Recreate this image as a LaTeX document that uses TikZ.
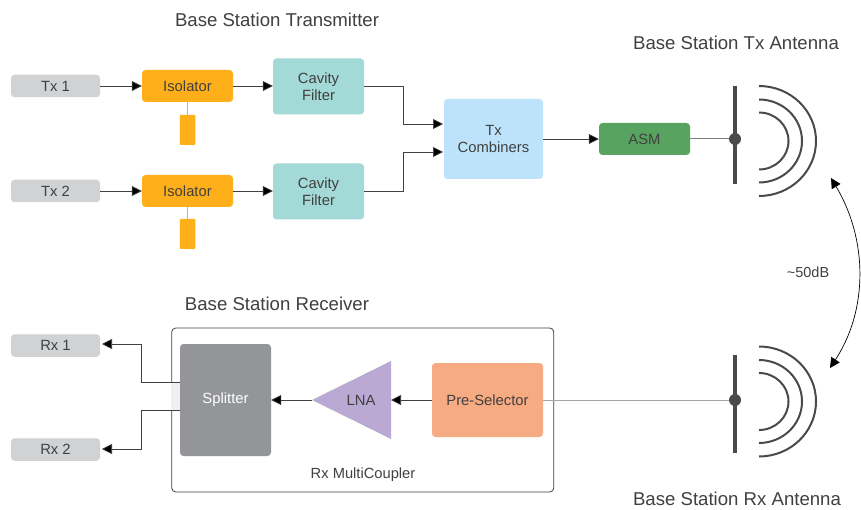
\documentclass[tikz,border=0pt]{standalone}
\usepackage{fontspec}
\setmainfont{Liberation Sans}
\usetikzlibrary{arrows.meta,shapes.geometric}
\definecolor{txt}{HTML}{404040}
\definecolor{ioc}{HTML}{D1D2D4}
\definecolor{iso}{HTML}{FFAF19}
\definecolor{cav}{HTML}{A3D9D6}
\definecolor{comb}{HTML}{BDE3FB}
\definecolor{asmc}{HTML}{57A35F}
\definecolor{split}{HTML}{939598}
\definecolor{lnac}{HTML}{B9A9D3}
\definecolor{pres}{HTML}{F7AB82}
\definecolor{ant}{HTML}{4A4A4A}
\tikzset{
 blockbox/.style={rectangle,rounded corners=3.5pt,inner sep=0pt,align=center,text=txt,font=\fontsize{14.8}{16.5}\selectfont},
 iobox/.style={blockbox,fill=ioc,minimum width=89pt,minimum height=22.5pt},
 isobox/.style={blockbox,fill=iso,minimum width=91pt,minimum height=32pt},
 stubbox/.style={rectangle,rounded corners=1pt,fill=iso,minimum width=15.5pt,minimum height=30pt,inner sep=0pt},
 cavbox/.style={blockbox,fill=cav,minimum width=91pt,minimum height=56pt},
 title/.style={text=txt,font=\fontsize{18.6}{22}\selectfont,inner sep=0pt},
 conn/.style={draw=txt,line width=.7pt,-{Triangle[length=10pt,width=10pt,fill=black]}},
 pole/.style={draw=ant,line width=3.4pt},
 wave/.style={draw=ant,line width=2pt},
}
\begin{document}
\begin{tikzpicture}[x=1pt,y=-1pt]
\useasboundingbox (0,0) rectangle (861,510);
\fill[white] (0,0) rectangle (861,510);
% titles
\node[title] (t1) at (277,20) {Base Station Transmitter};
\node[title] (t2) at (736,43) {Base Station Tx Antenna};
\node[title] (t3) at (277,304) {Base Station Receiver};
\node[title] (t4) at (737,499) {Base Station Rx Antenna};
% Rx multicoupler
\node[rectangle,draw=txt,line width=.8pt,rounded corners=4pt,minimum width=382pt,minimum height=164pt,inner sep=0pt] (mc) at (362.75,410) {};
\node[text=txt,font=\fontsize{14.7}{17}\selectfont,inner sep=0pt] (mclabel) at (363,475) {Rx MultiCoupler};
\fill[gray!12] (171,382) rectangle (180,410);
% Tx side
\node[iobox] (tx1) at (55.5,86) {Tx 1};
\node[iobox] (tx2) at (55.5,191) {Tx 2};
\node[isobox] (iso1) at (187.5,86) {Isolator};
\node[isobox] (iso2) at (187.5,191) {Isolator};
\node[stubbox] (st1) at (187.5,130) {};
\node[stubbox] (st2) at (187.5,234) {};
\draw[iso,line width=1.4pt] (iso1.south) -- (st1.north);
\draw[iso,line width=1.4pt] (iso2.south) -- (st2.north);
\node[cavbox] (cf1) at (318.5,86.5) {Cavity\\Filter};
\node[cavbox] (cf2) at (318.5,191.5) {Cavity\\Filter};
\node[blockbox,fill=comb,minimum width=99pt,minimum height=80pt] (tc) at (493.5,139) {Tx\\Combiners};
\node[blockbox,fill=asmc,minimum width=91pt,minimum height=32pt] (asm) at (644.5,139) {ASM};
% Antennas
\coordinate (p1t) at (735,86);
\coordinate (p1b) at (735,184);
\coordinate (d1) at (735,139);
\coordinate (p2t) at (735,355);
\coordinate (p2b) at (735,453);
\coordinate (d2) at (735,400);
\draw[pole] (p1t) -- (p1b);
\draw[pole] (p2t) -- (p2b);
\foreach \cy in {141,401.5}{
 \draw[wave] (759,\cy-55) arc[start angle=90,end angle=-90,x radius=57pt,y radius=55pt];
 \draw[wave] (759,\cy-41.5) arc[start angle=90,end angle=-90,x radius=43pt,y radius=41.5pt];
 \draw[wave] (759,\cy-28.5) arc[start angle=90,end angle=-90,x radius=29.5pt,y radius=28.5pt];
}
% Rx side
\node[iobox] (rx1) at (55.5,345.5) {Rx 1};
\node[iobox] (rx2) at (55.5,449.5) {Rx 2};
\node[blockbox,fill=split,text=white,minimum width=91pt,minimum height=112pt] (sp) at (225.5,400) {Splitter};
\node[blockbox,fill=pres,minimum width=111pt,minimum height=74pt] (ps) at (487.5,400) {Pre-Selector};
\fill[lnac] (391,361) -- (391,439) -- (312,400) -- cycle;
\coordinate (lnatip) at (312,400);
\coordinate (lnaback) at (391,400);
\node[text=txt,font=\fontsize{14.8}{16.5}\selectfont,inner sep=0pt] (lna) at (361,400) {LNA};
% connectors
\draw[conn] (tx1.east) -- (iso1.west);
\draw[conn] (tx2.east) -- (iso2.west);
\draw[conn] (iso1.east) -- (cf1.west |- iso1.east);
\draw[conn] (iso2.east) -- (cf2.west |- iso2.east);
\coordinate (tcup) at (443,124);
\coordinate (tcdn) at (443,152);
\draw[conn] (cf1.east) -- (403,86.5) -- (403,124) -- (tcup);
\draw[conn] (cf2.east) -- (403,191.5) -- (403,152) -- (tcdn);
\draw[conn] (tc.east) -- (asm.west);
\draw[draw=gray,line width=1pt] (asm.east) -- (d1);
\draw[draw=gray!70,line width=1pt] (ps.east) -- (d2);
\fill[ant] (d1) circle[radius=6pt];
\fill[ant] (d2) circle[radius=6pt];
\draw[conn] (ps.west) -- (lnaback);
\draw[conn] (lnatip) -- (sp.east);
\coordinate (sa) at (180,382);
\coordinate (sb) at (180,410);
\coordinate (ra) at (102,344);
\coordinate (rb) at (102,449);
\draw[conn] (sa) -- (141,382) -- (141,344) -- (ra);
\draw[conn] (sb) -- (141,410) -- (141,449) -- (rb);
% coupling
\coordinate (ca) at (831,178);
\coordinate (cb) at (830,368);
\draw[draw=black,line width=.7pt,{Triangle[length=10pt,width=10pt]}-{Triangle[length=10pt,width=10pt]}] (ca) .. controls (868,240) and (868,310) .. (cb);
\node[text=txt,font=\fontsize{14.5}{17}\selectfont,inner sep=0pt] (db) at (808,272) {\textasciitilde50dB};
\end{tikzpicture}
\end{document}
